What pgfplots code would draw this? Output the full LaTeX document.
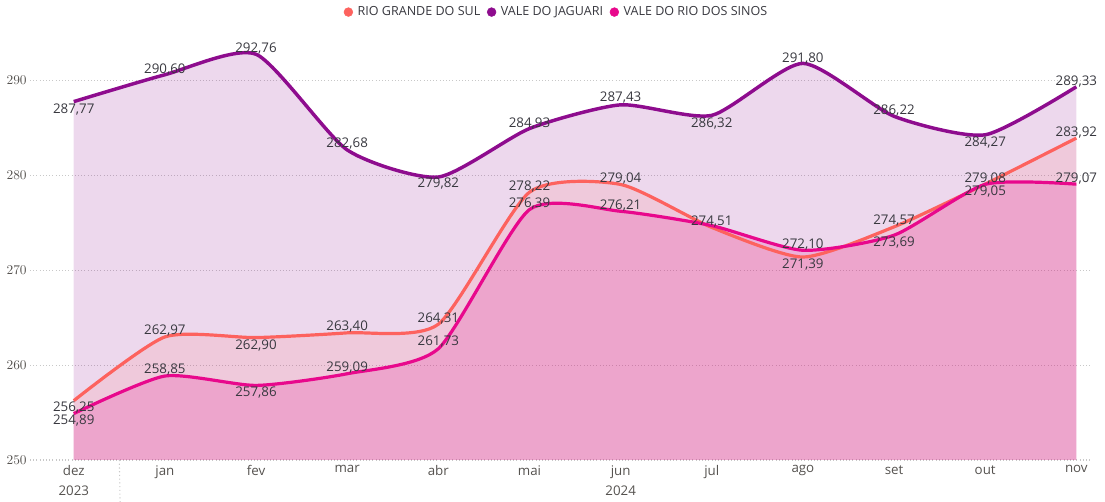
\documentclass[border=0pt]{standalone}
\usepackage{fontspec}
\setmainfont{Open Sans}
\usepackage{pgfplots}
\usepackage{pgfplotstable}
\pgfplotsset{compat=1.18}
\usepgfplotslibrary{fillbetween}

\definecolor{rgs}{HTML}{FD625E}
\definecolor{vj}{HTML}{8E0C8E}
\definecolor{vrs}{HTML}{E8088C}
\definecolor{labtxt}{HTML}{38383F}
\definecolor{ticktxt}{HTML}{55524F}
\definecolor{gridc}{HTML}{C8C8C8}

% x = month index (0 = dez 2023 ... 11 = nov 2024)
\pgfplotstableread{
x y
0 256.25
1 262.97
2 262.90
3 263.40
4 264.31
5 278.22
6 279.04
7 274.51
8 271.39
9 274.57
10 279.08
11 283.92
}\rgsdata
\pgfplotstableread{
x y
0 287.77
1 290.60
2 292.76
3 282.68
4 279.82
5 284.93
6 287.43
7 286.32
8 291.80
9 286.22
10 284.27
11 289.33
}\vjdata
\pgfplotstableread{
x y
0 254.89
1 258.85
2 257.86
3 259.09
4 261.73
5 276.39
6 276.21
7 274.70
8 272.10
9 273.69
10 279.05
11 279.07
}\vrsdata

% data labels: dy = vertical offset of the label centre (pt)
\pgfplotstableread{
x y lab dy
0 256.25 256,25 -5.2
1 262.97 262,97 4.6
2 262.90 262,90 -5.6
3 263.40 263,40 4.4
4 264.31 264,31 4.6
5 278.22 278,22 4.2
6 279.04 279,04 4.2
7 274.51 274,51 4.4
8 271.39 271,39 -5.6
9 274.57 274,57 4.4
10 279.08 279,08 4.4
11 283.92 283,92 4.2
}\rgslab
\pgfplotstableread{
x y lab dy
0 287.77 287,77 -6.0
1 290.60 290,60 4.0
2 292.76 292,76 4.0
3 282.68 282,68 4.6
4 279.82 279,82 -4.8
5 284.93 284,93 4.0
6 287.43 287,43 5.4
7 286.32 286,32 -6.0
8 291.80 291,80 4.0
9 286.22 286,22 4.6
10 284.27 284,27 -5.6
11 289.33 289,33 4.0
}\vjlab
\pgfplotstableread{
x y lab dy
0 254.89 254,89 -5.2
1 258.85 258,85 4.6
2 257.86 257,86 -5.6
3 259.09 259,09 4.4
4 261.73 261,73 5.6
5 276.39 276,39 4.6
6 276.21 276,21 4.4
8 272.10 272,10 4.0
9 273.69 273,69 -5.6
10 279.05 279,05 -5.4
11 279.07 279,07 4.4
}\vrslab

\begin{document}
\begin{tikzpicture}
\begin{axis}[
    scale only axis,
    width=795pt, height=320.25pt,
    xmin=-0.48, xmax=11.15, ymin=250, ymax=295,
    clip=false,
    axis line style={draw=none},
    tick style={draw=none},
    ytick={250,260,...,290},
    xtick={0,...,11},
    xticklabels={{dez\\[3pt]2023},jan,fev,mar,abr,mai,{jun\\[3pt]2024},jul,ago,set,out,nov},
    ymajorgrids,
    grid style={gridc, dotted, line width=0.8pt},
    yticklabel style={font=\fontsize{10.2}{12}\selectfont, text=ticktxt, xshift=1pt},
    xticklabel style={font=\fontsize{10}{12}\selectfont, text=ticktxt, align=center, yshift=-0.5pt},
    legend columns=3,
    legend style={at={(0.497,1.049)}, anchor=center, draw=none, fill=none,
        font=\fontsize{9.4}{11}\selectfont, text=labtxt,
        /tikz/every odd column/.append style={column sep=1.5pt},
        /tikz/every even column/.append style={column sep=3pt}},
    legend image code/.code={\fill[#1] (0pt,0pt) circle (3.3pt);},
    labels/.style={draw=none, mark=none, forget plot,
        nodes near coords, point meta=explicit symbolic,
        visualization depends on={\thisrow{dy} \as \dy},
        every node near coord/.append style={anchor=center, yshift=\dy pt,
            font=\fontsize{10}{12}\selectfont, text=labtxt, inner sep=0pt}},
]
\addlegendimage{rgs}
\addlegendentry{RIO GRANDE DO SUL}
\addlegendimage{vj}
\addlegendentry{VALE DO JAGUARI}
\addlegendimage{vrs}
\addlegendentry{VALE DO RIO DOS SINOS}

% base and series paths
\addplot[draw=none, forget plot, name path=base] coordinates {(0,250) (11,250)};
\addplot[draw=none, forget plot, smooth, tension=0.38, name path=vjp] table {\vjdata};
\addplot[draw=none, forget plot, smooth, tension=0.38, name path=rgsp] table {\rgsdata};
\addplot[draw=none, forget plot, smooth, tension=0.38, name path=vrsp] table {\vrsdata};

% areas
\addplot[vj, fill opacity=0.16, forget plot] fill between[of=vjp and base];
\addplot[rgs, fill opacity=0.12, forget plot] fill between[of=rgsp and base];
\addplot[vrs, fill opacity=0.19, forget plot] fill between[of=vrsp and base];

% lines
\addplot[rgs, line width=2.4pt, smooth, tension=0.38, forget plot] table {\rgsdata};
\addplot[vj, line width=2.6pt, smooth, tension=0.38, forget plot] table {\vjdata};
\addplot[vrs, line width=2.4pt, smooth, tension=0.38, forget plot] table {\vrsdata};

% data labels
\addplot[labels] table[meta=lab] {\vjlab};
\addplot[labels] table[meta=lab] {\rgslab};
\addplot[labels] table[meta=lab] {\vrslab};

% year separators
\draw[gridc, dotted, line width=0.8pt] (axis cs:-0.48,250) ++(0,-7pt) -- ++(0,-21pt);
\draw[gridc, dotted, line width=0.8pt] (axis cs:0.5,250) -- ++(0,-28pt);
\end{axis}
\pgfresetboundingbox
\path[use as bounding box] (current axis.south west) ++(-22.5pt,-31.5pt)
    rectangle ([xshift=11.25pt,yshift=24.75pt]current axis.north east);
\end{tikzpicture}
\end{document}
